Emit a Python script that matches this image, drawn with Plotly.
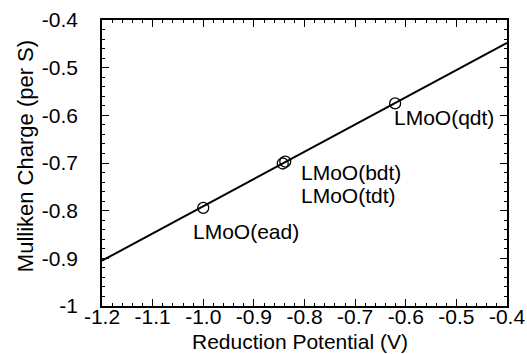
import plotly.graph_objects as go

# data
compounds = ["LMoO(ead)", "LMoO(bdt)", "LMoO(tdt)", "LMoO(qdt)"]
potential = [-1.00, -0.843, -0.838, -0.621]
charge = [-0.794, -0.701, -0.697, -0.575]

fit_x = [-1.2, -0.4]
fit_y = [-0.905, -0.448]

# label anchor positions (data units)
label_x = [-1.022, -0.809, -0.809, -0.625]
label_y = [-0.843, -0.719, -0.769, -0.6035]

x_ticks = [-1.2, -1.1, -1.0, -0.9, -0.8, -0.7, -0.6, -0.5, -0.4]
x_ticktext = ["-1.2", "-1.1", "-1.0", "-0.9", "-0.8", "-0.7", "-0.6", "-0.5", "-0.4"]
y_ticks = [-1.0, -0.9, -0.8, -0.7, -0.6, -0.5, -0.4]
y_ticktext = ["-1", "-0.9", "-0.8", "-0.7", "-0.6", "-0.5", "-0.4"]

x_title = "Reduction Potential (V)"
y_title = "Mulliken Charge (per S)"

FONT = "Liberation Sans, Arial, Helvetica, sans-serif"

fig = go.Figure()
fig.add_trace(go.Scatter(x=fit_x, y=fit_y, mode="lines",
                         line=dict(color="black", width=2), hoverinfo="skip"))
fig.add_trace(go.Scatter(x=potential, y=charge, mode="markers", text=compounds,
                         marker=dict(symbol="circle-open", size=11, color="black",
                                     line=dict(width=1.3, color="black"))))

for t, lx, ly in zip(compounds, label_x, label_y):
    fig.add_annotation(x=lx, y=ly, text=t, showarrow=False, xanchor="left",
                       yanchor="middle", borderpad=0,
                       font=dict(family=FONT, size=21, color="black"))

# axis titles placed as paper-anchored text
fig.add_annotation(xref="paper", yref="paper", x=0.49, y=-0.124, text=x_title,
                   showarrow=False, xanchor="center", yanchor="middle", borderpad=0,
                   font=dict(family=FONT, size=21, color="black"))
fig.add_annotation(xref="paper", yref="paper", x=-0.19, y=0.524, text=y_title,
                   textangle=-90, showarrow=False, xanchor="center", yanchor="middle",
                   borderpad=0, font=dict(family=FONT, size=22, color="black"))

axis_common = dict(showline=True, linecolor="black", linewidth=1.5, mirror="ticks",
                   ticks="inside", ticklen=7, tickwidth=1.3, tickcolor="black",
                   showgrid=False, zeroline=False, automargin=False,
                   tickfont=dict(family=FONT, size=21, color="black"),
                   minor=dict(ticks="inside", ticklen=3, dtick=0.02, tickcolor="black",
                              tickwidth=1, showgrid=False))

fig.update_xaxes(range=[-1.2, -0.4], tickvals=x_ticks, ticktext=x_ticktext,
                 ticklabelstandoff=-9, **axis_common)
fig.update_yaxes(range=[-1.0, -0.4], tickvals=y_ticks, ticktext=y_ticktext,
                 ticklabelstandoff=18, **axis_common)

fig.update_layout(width=527, height=354, showlegend=False, template="none",
                  margin=dict(l=102, r=20, t=20, b=48, autoexpand=False),
                  plot_bgcolor="white", paper_bgcolor="white")

fig.write_html("out.html", config={"displayModeBar": False},
               post_script="document.body.style.margin='0';document.body.style.overflow='hidden';")
